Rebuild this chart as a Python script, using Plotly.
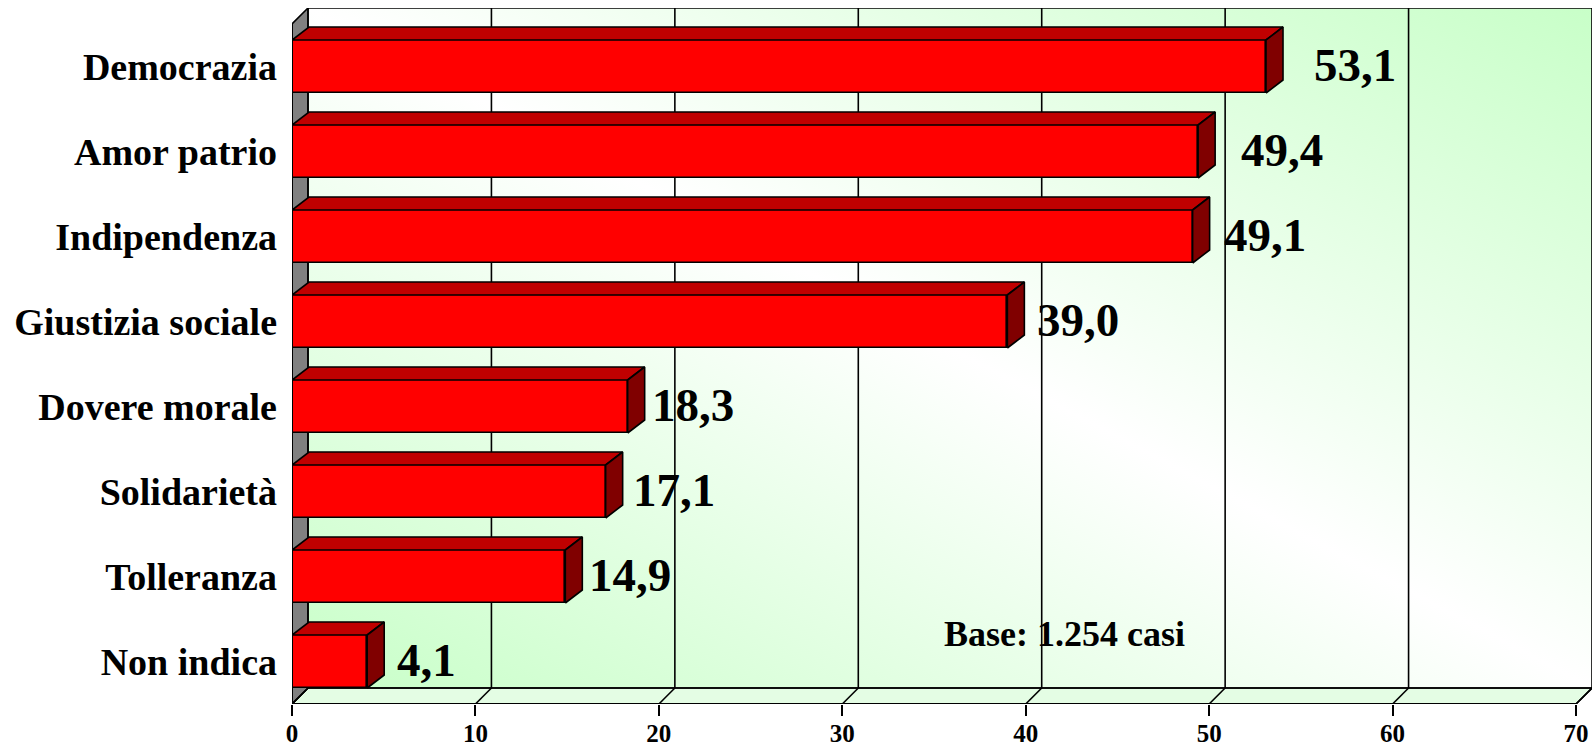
import base64
import plotly.graph_objects as go

# Survey answers (percent of respondents), listed top to bottom
categories = ["Democrazia", "Amor patrio", "Indipendenza", "Giustizia sociale",
              "Dovere morale", "Solidarietà", "Tolleranza", "Non indica"]
values = [53.1, 49.4, 49.1, 39.0, 18.3, 17.1, 14.9, 4.1]
x_ticks = [0, 10, 20, 30, 40, 50, 60, 70]
base_note = "Base: 1.254 casi"

# ---- geometry of the pseudo-3D frame (pixels converted to data units) ----
X_MAX = 70
PX_PER_X = 1284 / X_MAX          # front plane: 0 -> 70 spans 1284 px
PX_PER_Y = 85                    # one category band
PLANE_DX = 16 / PX_PER_X         # depth offset of the back wall
PLANE_DY = 16 / PX_PER_Y
BAR_DX = 17 / PX_PER_X           # depth offset of each bar
BAR_DY = 13 / PX_PER_Y
BAR_H = 53 / PX_PER_Y            # thickness of a bar's front face

n = len(categories)
ypos = [n - 1 - i for i in range(n)]     # first category at the top
Y0, Y1 = -0.5, n - 0.5

FONT = "Liberation Serif, Times New Roman, serif"
RED, RED_TOP, RED_SIDE = "#ff0000", "#c00000", "#800000"

fig = go.Figure()

# front faces of the bars
fig.add_trace(go.Bar(
    y=ypos, x=values, orientation="h", base=0, width=BAR_H,
    marker=dict(color=RED, line=dict(color="black", width=1.6)),
    hoverinfo="skip", showlegend=False,
))

# top and side faces of the bars, built from the same values
top_x, top_y, side_x, side_y = [], [], [], []
for v, y in zip(values, ypos):
    yt, yb = y + BAR_H / 2, y - BAR_H / 2
    top_x += [0, v, v + BAR_DX, BAR_DX, 0, None]
    top_y += [yt, yt, yt + BAR_DY, yt + BAR_DY, yt, None]
    side_x += [v, v, v + BAR_DX, v + BAR_DX, v, None]
    side_y += [yb, yt, yt + BAR_DY, yb + BAR_DY, yb, None]

fig.add_trace(go.Scatter(x=top_x, y=top_y, mode="lines", fill="toself",
                         fillcolor=RED_TOP, line=dict(color="black", width=1.6),
                         hoverinfo="skip", showlegend=False))
fig.add_trace(go.Scatter(x=side_x, y=side_y, mode="lines", fill="toself",
                         fillcolor=RED_SIDE, line=dict(color="black", width=1.6),
                         hoverinfo="skip", showlegend=False))

# ---- back wall with a diagonal green/white gradient ----
svg = ('<svg xmlns="http://www.w3.org/2000/svg" width="100" height="100" '
       'viewBox="0 0 100 100" preserveAspectRatio="none"><defs>'
       '<linearGradient id="g" x1="1" y1="0" x2="0" y2="1">'
       '<stop offset="0" stop-color="#c8ffc8"/>'
       '<stop offset="0.5" stop-color="#ffffff"/>'
       '<stop offset="1" stop-color="#c8ffc8"/>'
       '</linearGradient></defs>'
       '<rect width="100" height="100" fill="url(#g)"/></svg>')
fig.add_layout_image(dict(
    source="data:image/svg+xml;base64," + base64.b64encode(svg.encode()).decode(),
    xref="x", yref="y", x=PLANE_DX, y=Y1 + PLANE_DY,
    sizex=X_MAX, sizey=Y1 - Y0, xanchor="left", yanchor="top",
    sizing="stretch", layer="below",
))

shapes = []
line_k = dict(color="black", width=1.6)

# floor strip
shapes.append(dict(type="path", layer="between",
                   path=f"M 0 {Y0} L {X_MAX} {Y0} L {X_MAX + PLANE_DX} {Y0 + PLANE_DY} "
                        f"L {PLANE_DX} {Y0 + PLANE_DY} Z",
                   fillcolor="#e4fde4", line=line_k))
# left side wall
shapes.append(dict(type="path", layer="between",
                   path=f"M 0 {Y0} L {PLANE_DX} {Y0 + PLANE_DY} L {PLANE_DX} {Y1 + PLANE_DY} "
                        f"L 0 {Y1} Z",
                   fillcolor="#808080", line=line_k))
# back wall outline
shapes.append(dict(type="rect", layer="between", x0=PLANE_DX, x1=X_MAX + PLANE_DX,
                   y0=Y0 + PLANE_DY, y1=Y1 + PLANE_DY, line=line_k))
# gridlines on the back wall and their traces across the floor
for t in x_ticks:
    if 0 < t < X_MAX:
        shapes.append(dict(type="line", layer="between", x0=t + PLANE_DX, x1=t + PLANE_DX,
                           y0=Y0 + PLANE_DY, y1=Y1 + PLANE_DY, line=line_k))
    shapes.append(dict(type="line", layer="between", x0=t, x1=t + PLANE_DX,
                       y0=Y0, y1=Y0 + PLANE_DY, line=line_k))
# front axis lines
shapes.append(dict(type="line", layer="above", x0=0, x1=X_MAX, y0=Y0, y1=Y0,
                   line=dict(color="black", width=2)))
shapes.append(dict(type="line", layer="above", x0=0, x1=0, y0=Y0, y1=Y1,
                   line=dict(color="black", width=2)))
# category boundary ticks on the value axis side
for k in range(n + 1):
    yb = Y0 + k
    shapes.append(dict(type="line", layer="above", xref="x", xsizemode="pixel", xanchor=0,
                       x0=-10, x1=0, y0=yb, y1=yb, line=dict(color="black", width=2)))
fig.update_layout(shapes=shapes)

# value labels
label_gap_px = [29, 24, 12, 11, 5, 8, 5, 11]
for v, y, gap in zip(values, ypos, label_gap_px):
    fig.add_annotation(x=v + BAR_DX, y=y, xref="x", yref="y",
                       text=f"{v:.1f}".replace(".", ","), showarrow=False,
                       xanchor="left", yanchor="middle", xshift=gap, yshift=2,
                       font=dict(family=FONT, size=47, color="black", weight="bold"))

fig.add_annotation(x=42.1, y=0.325, xref="x", yref="y", text=base_note, showarrow=False,
                   xanchor="center", yanchor="middle",
                   font=dict(family=FONT, size=36, color="black", weight="bold"))

fig.update_layout(
    width=1596, height=746, autosize=False,
    margin=dict(l=292, r=4, t=8, b=42, pad=0),
    paper_bgcolor="white", plot_bgcolor="rgba(0,0,0,0)",
    bargap=0, showlegend=False,
    xaxis=dict(range=[0, X_MAX + PLANE_DX], tickvals=x_ticks, automargin=False,
               ticktext=[str(t) for t in x_ticks], ticks="outside", ticklen=11,
               tickwidth=2, tickcolor="black", showgrid=False, zeroline=False,
               showline=False, ticklabelstandoff=-4,
               tickfont=dict(family=FONT, size=25, color="black", weight="bold")),
    yaxis=dict(range=[Y0, Y1 + PLANE_DY], tickvals=ypos, ticktext=categories,
               ticks="", showgrid=False, zeroline=False, showline=False,
               automargin=False, ticklabelstandoff=14,
               tickfont=dict(family=FONT, size=38, color="black", weight="bold")),
)

fig.write_html("out.html")
